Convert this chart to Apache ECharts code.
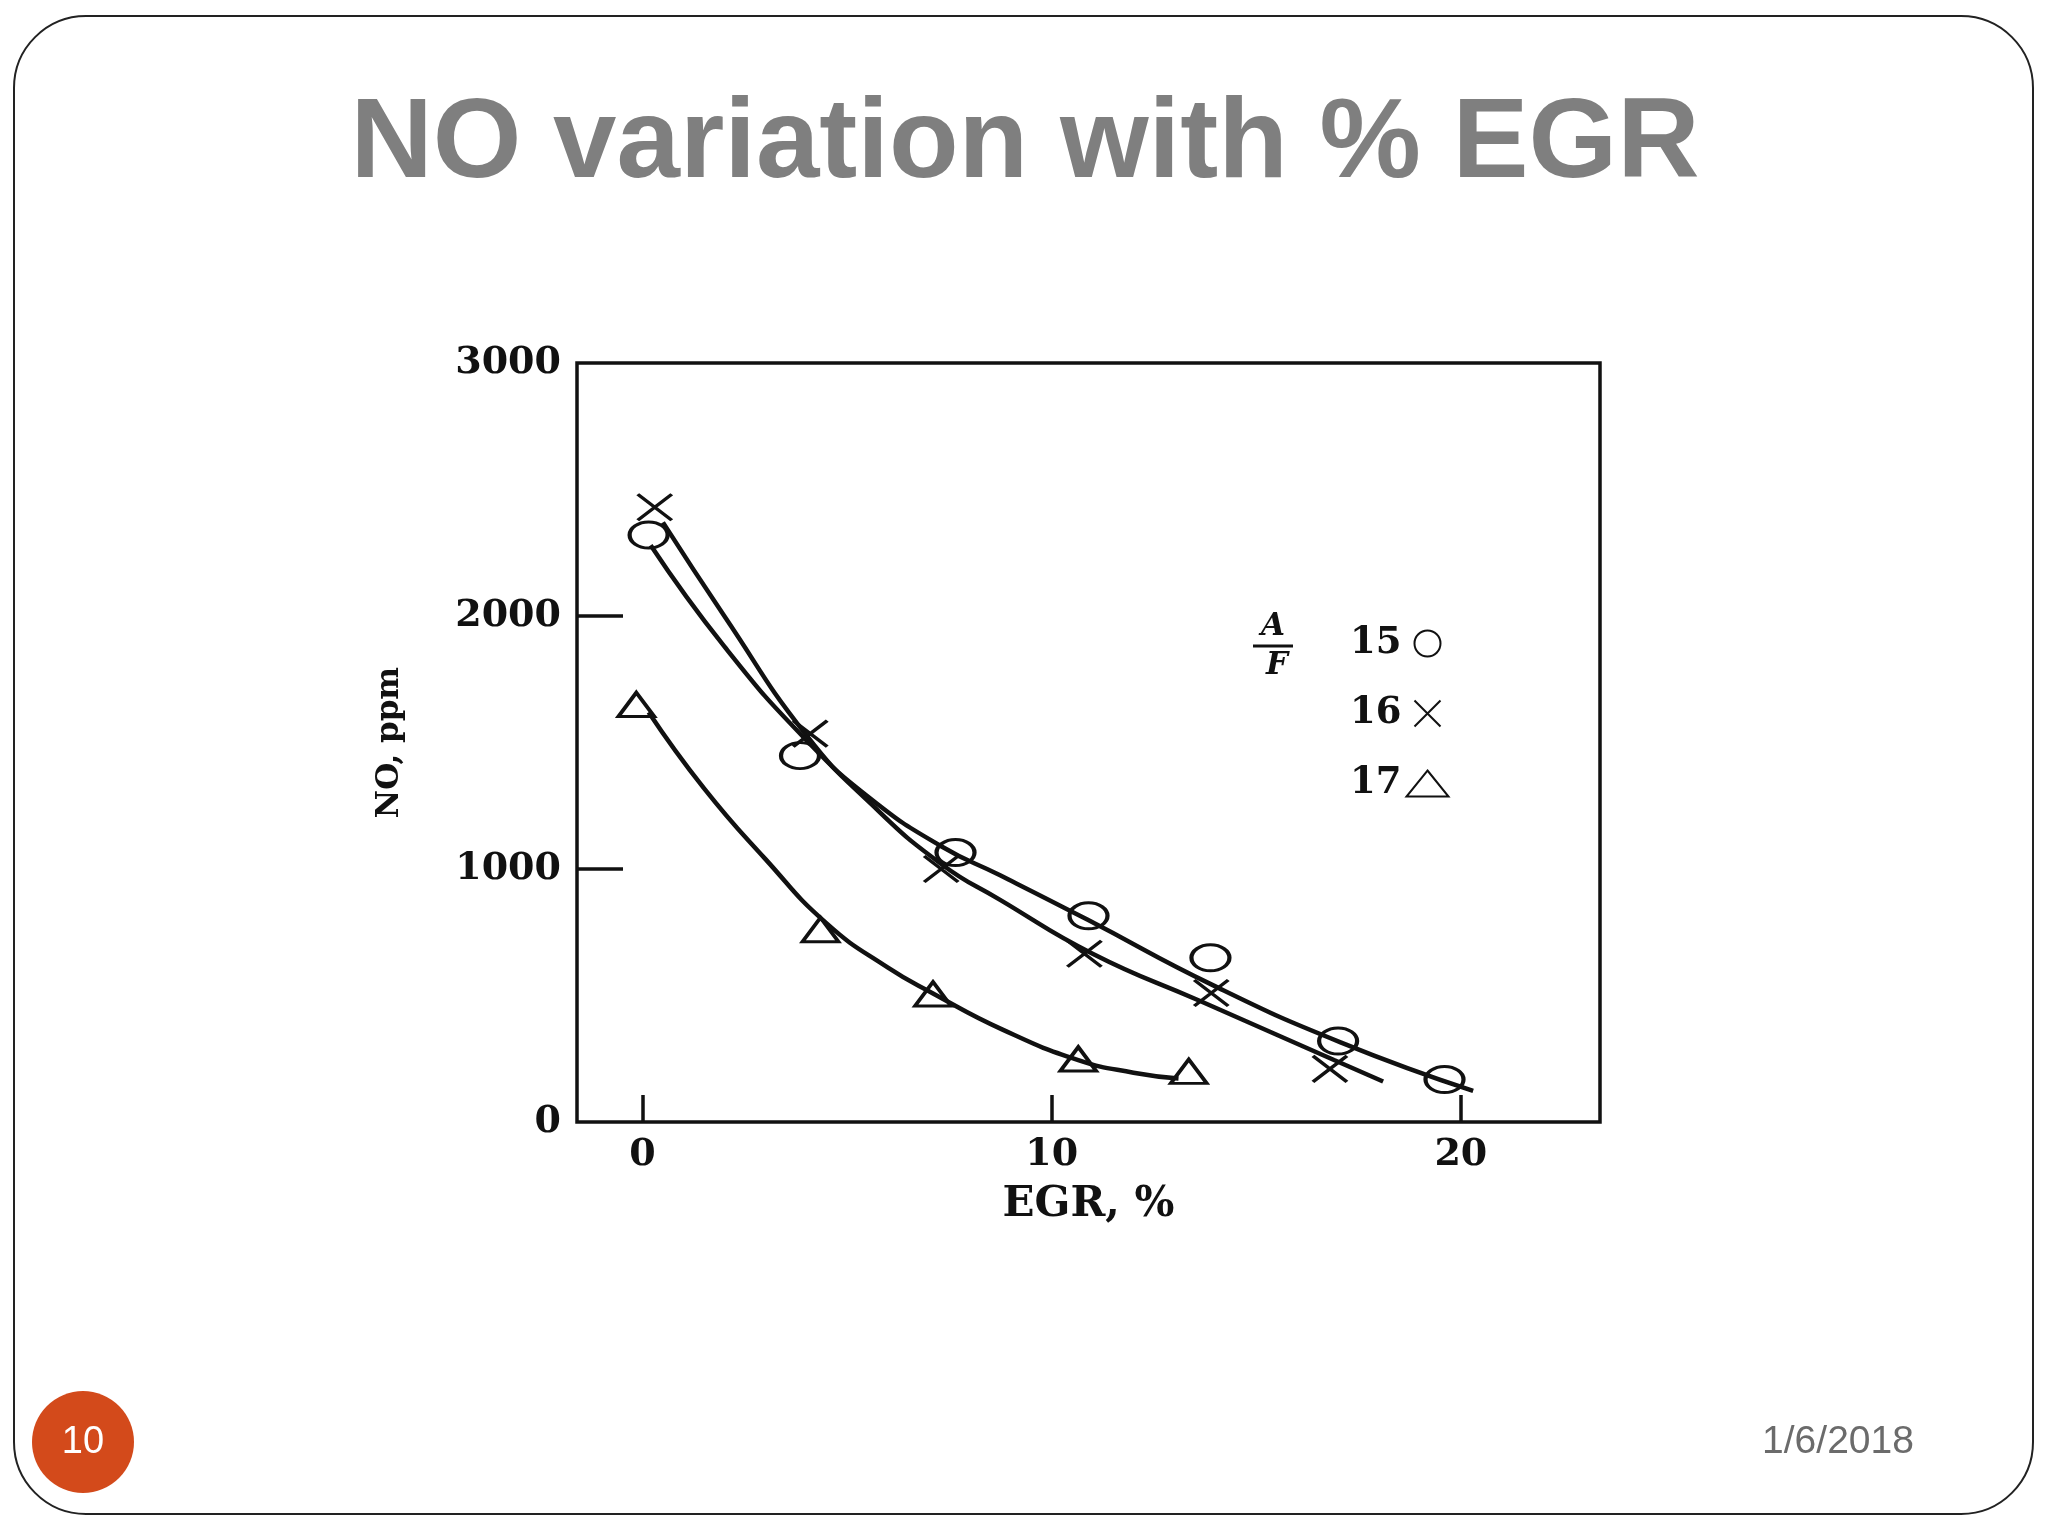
<!DOCTYPE html>
<html>
<head>
<meta charset="utf-8">
<title>NO variation with % EGR</title>
<script src="https://cdn.jsdelivr.net/npm/echarts@6/dist/echarts.min.js"></script>
<style>
    html, body { margin: 0; padding: 0; background: #fff; }
    #chart { width: 2048px; height: 1536px; }
</style>
</head>
<body>
<div id="chart"></div>
<script>
// measured points, A/F = 15 (circles)
var egr15 = [0.15, 3.85, 7.65, 10.9, 13.88, 17.0, 19.6];
var no15 = [2320, 1448, 1065, 815, 649, 320, 168];
// A/F = 16 (crosses)
var egr16 = [0.3, 4.1, 7.3, 10.8, 13.9, 16.8];
var no16 = [2430, 1535, 1000, 665, 510, 210];
// A/F = 17 (triangles)
var egr17 = [-0.15, 4.35, 7.1, 10.65, 13.35];
var no17 = [1650, 760, 506, 249, 200];

// fitted curves
var curveX15 = [0.2, 2, 4, 5.6, 7.3, 8.74, 10.87, 13.95, 17.06, 20.3];
var curveY15 = [2280, 1880, 1510, 1275, 1090, 975, 800, 540, 315, 123];
var curveX16 = [0.5, 2, 4, 5.6, 7.3, 8.74, 11, 13.6, 16.9, 18.1];
var curveY16 = [2370, 2000, 1530, 1255, 1020, 878, 665, 480, 245, 160];
var curveX17 = [0.15, 1.5, 3, 4.5, 6, 7.1, 8.8, 10.65, 12, 13.1];
var curveY17 = [1620, 1320, 1040, 785, 610, 508, 365, 245, 195, 172];

var xTicks = [0, 10, 20];
var yLabels = [0, 1000, 2000, 3000];
var yTicks = [1000, 2000];
var afNames = ['15', '16', '17'];

var serif = 'DejaVu Serif';
var ink = '#111';

var pairs = function (xs, ys) {
    var out = [];
    for (var i = 0; i < xs.length; i++) {
        out.push([xs[i], ys[i]]);
    }
    return out;
};

var curve = function (xs, ys) {
    return {
        type: 'line',
        data: pairs(xs, ys),
        smooth: 0.5,
        showSymbol: false,
        silent: true,
        z: 2,
        lineStyle: { color: ink, width: 4.5 }
    };
};

var markers = function (name, xs, ys, symbol, size) {
    return {
        name: name,
        type: 'scatter',
        data: pairs(xs, ys),
        symbol: symbol,
        symbolSize: size,
        z: 3,
        itemStyle: { color: 'rgba(255,255,255,0)', borderColor: ink, borderWidth: 3.5, opacity: 1 }
    };
};

var chart = echarts.init(document.getElementById('chart'));

chart.setOption({
    backgroundColor: '#fff',
    animation: false,
    grid: {
        left: 577, right: 448, top: 363, bottom: 414,
        show: true, borderColor: ink, borderWidth: 3.5
    },
    legend: {
        data: afNames,
        orient: 'vertical',
        left: 1345,
        top: 620,
        align: 'right',
        itemWidth: 42,
        itemHeight: 26,
        itemGap: 33,
        selectedMode: false,
        textStyle: { fontFamily: serif, fontWeight: 'bold', fontSize: 37, color: ink }
    },
    xAxis: {
        type: 'value',
        min: -1.6,
        max: 23.4,
        name: 'EGR, %',
        nameLocation: 'middle',
        nameGap: 62,
        nameTextStyle: { fontFamily: serif, fontWeight: 'bold', fontSize: 42, color: ink },
        axisLine: { show: false, onZero: false },
        splitLine: { show: false },
        axisTick: {
            show: true, inside: true, length: 27, customValues: xTicks,
            lineStyle: { color: ink, width: 3.5 }
        },
        axisLabel: {
            customValues: xTicks, margin: 14,
            formatter: function (v) { return String(v); },
            fontFamily: serif, fontWeight: 'bold', fontSize: 38, color: ink
        }
    },
    yAxis: {
        type: 'value',
        min: 0,
        max: 3000,
        name: 'NO, ppm',
        nameLocation: 'middle',
        nameGap: 172,
        nameRotate: 90,
        nameTextStyle: { fontFamily: serif, fontWeight: 'bold', fontSize: 31, color: ink },
        axisLine: { show: false, onZero: false },
        splitLine: { show: false },
        axisTick: {
            show: true, inside: true, length: 46, customValues: yTicks,
            lineStyle: { color: ink, width: 3.5 }
        },
        axisLabel: {
            customValues: yLabels, margin: 16,
            formatter: function (v) { return String(v); },
            fontFamily: serif, fontWeight: 'bold', fontSize: 38, color: ink
        }
    },
    graphic: [
        {
            type: 'rect',
            shape: { x: 14, y: 16, width: 2019, height: 1498, r: 72 },
            style: { fill: 'none', stroke: '#222', lineWidth: 2 },
            silent: true
        },
        {
            type: 'text',
            x: 1025, y: 146,
            style: {
                text: 'NO variation with % EGR',
                font: 'bold 114px "Liberation Sans", Arial, sans-serif',
                fill: '#7f7f7f', align: 'center', verticalAlign: 'middle'
            }
        },
        {
            type: 'text',
            x: 1273, y: 627,
            style: {
                text: 'A', font: 'italic bold 31px "DejaVu Serif", serif',
                fill: ink, align: 'center', verticalAlign: 'middle'
            }
        },
        {
            type: 'line',
            shape: { x1: 1253, y1: 646, x2: 1293, y2: 646 },
            style: { stroke: ink, lineWidth: 3 }
        },
        {
            type: 'text',
            x: 1277, y: 666,
            style: {
                text: 'F', font: 'italic bold 31px "DejaVu Serif", serif',
                fill: ink, align: 'center', verticalAlign: 'middle'
            }
        },
        {
            type: 'circle',
            shape: { cx: 83, cy: 1442, r: 51 },
            style: { fill: '#d34a1b' }
        },
        {
            type: 'text',
            x: 83, y: 1443,
            style: {
                text: '10', font: '38px "Liberation Sans", Arial, sans-serif',
                fill: '#fff', align: 'center', verticalAlign: 'middle'
            }
        },
        {
            type: 'text',
            x: 1838, y: 1442,
            style: {
                text: '1/6/2018', font: '39px "Liberation Sans", Arial, sans-serif',
                fill: '#6b6b6b', align: 'center', verticalAlign: 'middle'
            }
        }
    ],
    series: [
        curve(curveX15, curveY15),
        curve(curveX16, curveY16),
        curve(curveX17, curveY17),
        markers('15', egr15, no15, 'circle', [38, 26]),
        markers('16', egr16, no16, 'path://M0,0L10,10M10,0L0,10', [34, 26]),
        markers('17', egr17, no17, 'triangle', [36, 24])
    ]
});
</script>
</body>
</html>
